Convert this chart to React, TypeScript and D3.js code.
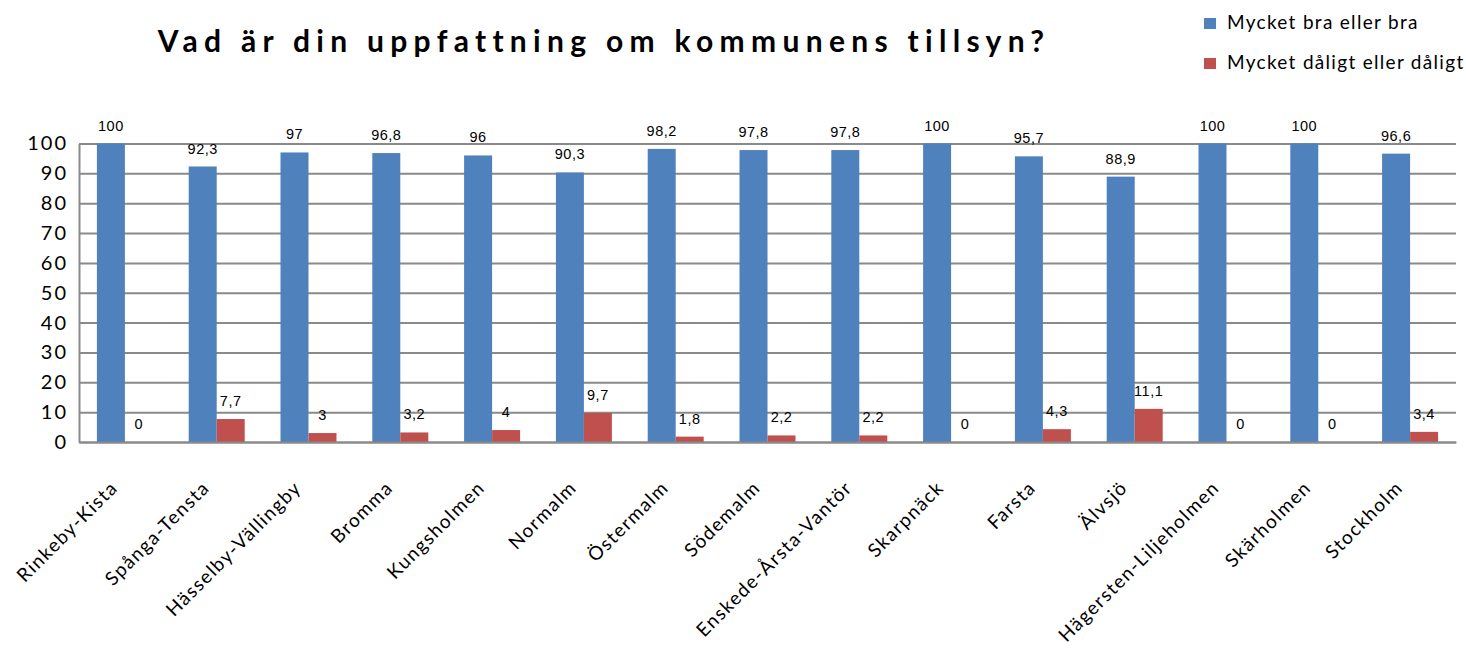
import { useEffect, useRef } from 'react';
import * as d3 from 'd3';

const categories = [
  'Rinkeby-Kista', 'Spånga-Tensta', 'Hässelby-Vällingby', 'Bromma', 'Kungsholmen',
  'Normalm', 'Östermalm', 'Södemalm', 'Enskede-Årsta-Vantör', 'Skarpnäck',
  'Farsta', 'Älvsjö', 'Hägersten-Liljeholmen', 'Skärholmen', 'Stockholm',
];
const goodValues = [100, 92.3, 97, 96.8, 96, 90.3, 98.2, 97.8, 97.8, 100, 95.7, 88.9, 100, 100, 96.6];
const badValues = [0, 7.7, 3, 3.2, 4, 9.7, 1.8, 2.2, 2.2, 0, 4.3, 11.1, 0, 0, 3.4];
const seriesNames = ['Mycket bra eller bra', 'Mycket dåligt eller dåligt'];
const yTicks = [0, 10, 20, 30, 40, 50, 60, 70, 80, 90, 100];

const W = 1466, H = 657;
const ML = 79, MR = 10, MT = 143.5, MB = 215;
const INNER_W = W - ML - MR;
const INNER_H = H - MT - MB;
const COLORS = ['#4f81bd', '#c0504d'];
const FONT = 'Lato, "Open Sans", sans-serif';

const fmt = (v: number) => String(v).replace('.', ',');

export default function App() {
  const svgRef = useRef<SVGSVGElement>(null);

  useEffect(() => {
    const svg = d3.select(svgRef.current);
    svg.selectAll('*').remove();

    const rows = categories.map((c, i) => ({ cat: c, vals: [goodValues[i], badValues[i]] }));

    const x = d3.scaleBand<string>()
      .domain(categories)
      .range([0, INNER_W])
      .paddingInner(0.39)
      .paddingOuter(0.195);
    const xs = d3.scaleBand<number>()
      .domain([0, 1])
      .range([0, x.bandwidth()]);
    const y = d3.scaleLinear().domain([0, 100]).range([INNER_H, 0]);

    // title
    svg.append('text')
      .attr('x', 604)
      .attr('y', 52)
      .attr('text-anchor', 'middle')
      .attr('font-family', FONT)
      .attr('font-weight', 700)
      .attr('font-size', 30)
      .attr('letter-spacing', 6.3)
      .attr('fill', '#000')
      .text('Vad är din uppfattning om kommunens tillsyn?');

    // legend
    const lg = svg.append('g').attr('transform', 'translate(1204,18)');
    seriesNames.forEach((name, i) => {
      lg.append('rect')
        .attr('x', 0).attr('y', i * 40)
        .attr('width', 12).attr('height', 11)
        .attr('fill', COLORS[i]);
      lg.append('text')
        .attr('x', 23).attr('y', i * 40 + 11)
        .attr('font-family', FONT)
        .attr('font-size', 19)
        .attr('letter-spacing', 1.3)
        .attr('fill', '#000')
        .text(name);
    });

    const g = svg.append('g').attr('transform', `translate(${ML},${MT})`);

    // gridlines
    g.append('g')
      .call(d3.axisLeft(y).tickValues(yTicks).tickSize(-INNER_W).tickFormat(() => ''))
      .call((gg) => {
        gg.select('.domain').remove();
        gg.selectAll('line').attr('stroke', '#8a8a8a').attr('stroke-width', 2);
      });

    // y axis
    g.append('g')
      .call(d3.axisLeft(y).tickValues(yTicks).tickSize(0).tickPadding(11))
      .call((gg) => {
        gg.select('.domain').attr('stroke', '#8a8a8a').attr('stroke-width', 2);
        gg.selectAll('text')
          .attr('font-family', FONT)
          .attr('font-size', 20)
          .attr('letter-spacing', 2)
          .attr('fill', '#000');
      });

    // bars
    const groups = g.selectAll('.grp')
      .data(rows)
      .join('g')
      .attr('class', 'grp')
      .attr('transform', (d) => `translate(${x(d.cat)},0)`);

    groups.selectAll('rect')
      .data((d) => d.vals.map((v, i) => ({ v, i })))
      .join('rect')
      .attr('x', (d) => xs(d.i)!)
      .attr('width', xs.bandwidth())
      .attr('y', (d) => y(d.v))
      .attr('height', (d) => INNER_H - y(d.v))
      .attr('fill', (d) => COLORS[d.i]);

    groups.selectAll('text')
      .data((d) => d.vals.map((v, i) => ({ v, i })))
      .join('text')
      .attr('x', (d) => xs(d.i)! + xs.bandwidth() / 2)
      .attr('y', (d) => y(d.v) - 13)
      .attr('text-anchor', 'middle')
      .attr('font-family', '"Liberation Sans", Arial, sans-serif')
      .attr('font-size', 14.5)
      .attr('letter-spacing', 0.5)
      .attr('fill', '#000')
      .text((d) => fmt(d.v));

    // x axis
    g.append('g')
      .attr('transform', `translate(0,${INNER_H})`)
      .call(d3.axisBottom(x).tickSize(0).tickFormat(() => ''))
      .call((gg) => {
        gg.select('.domain').attr('stroke', '#8a8a8a').attr('stroke-width', 2);
      });

    g.append('g')
      .selectAll('text')
      .data(categories)
      .join('text')
      .attr('transform', (d) => `translate(${x(d)! + x.bandwidth() / 2 - 6},${INNER_H + 47}) rotate(-45)`)
      .attr('text-anchor', 'end')
      .attr('font-family', FONT)
      .attr('font-size', 19)
      .attr('letter-spacing', 1.4)
      .attr('fill', '#000')
      .text((d) => d);
  }, []);

  return (
    <svg
      ref={svgRef}
      width={W}
      height={H}
      viewBox={`0 0 ${W} ${H}`}
      style={{ position: 'absolute', left: 0, top: 0, background: '#fff' }}
    />
  );
}
